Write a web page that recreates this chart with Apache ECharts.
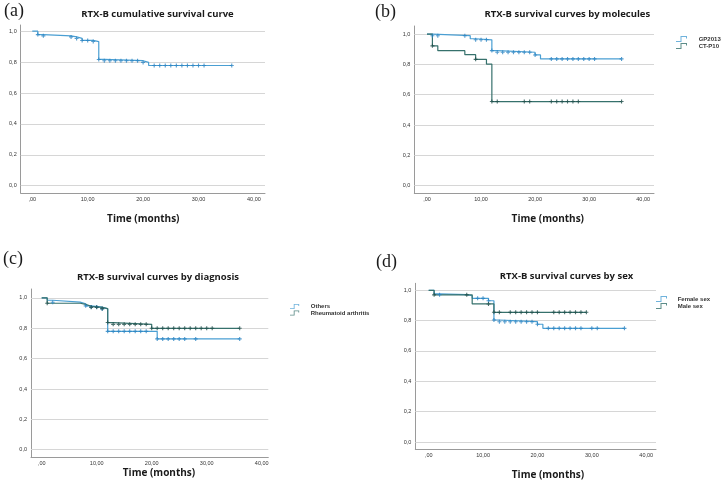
<!DOCTYPE html>
<html><head><meta charset="utf-8">
<script src="https://cdn.jsdelivr.net/npm/echarts@6/dist/echarts.min.js"></script>
<style>html,body{margin:0;padding:0;background:#fff}#c{width:722px;height:488px}</style>
</head><body><div id="c"></div>
<script>
// ---------------- data ----------------
const xTicks = [0, 10, 20, 30, 40];
const yTicks = [0, 0.2, 0.4, 0.6, 0.8, 1.0];

// (a) cumulative
const aTimes = [0, 1, 2, 7, 8, 9, 11, 12, 13, 20, 21, 36];
const aSurv  = [1.0, 0.978, 0.970, 0.963, 0.953, 0.940, 0.933, 0.817, 0.809, 0.798, 0.778, 0.778];
const aCens  = [1, 2, 7, 8, 9, 10, 11, 12, 13, 14, 15, 16, 17, 18, 19, 20, 22, 23, 24, 25, 26, 27, 28, 29, 30, 31, 36];

// (b) by molecules
const bNames = ['GP2013', 'CT-P10'];
const bGpTimes = [0, 1, 8, 9, 12, 13, 20, 21, 36];
const bGpSurv  = [1.0, 0.989, 0.969, 0.962, 0.891, 0.880, 0.862, 0.836, 0.836];
const bGpCens  = [1, 2, 7, 9, 10, 11, 12, 13, 14, 15, 16, 17, 18, 19, 20, 23, 24, 25, 26, 27, 28, 29, 30, 31, 36];
const bCtTimes = [0, 1, 2, 7, 9, 11, 12, 36];
const bCtSurv  = [1.0, 0.922, 0.890, 0.864, 0.833, 0.802, 0.555, 0.555];
const bCtCens  = [1, 9, 12, 13, 18, 19, 23, 24, 25, 26, 27, 28, 36];

// (c) by diagnosis
const cNames = ['Others', 'Rheumatoid arthritis'];
const cOtTimes = [0, 1, 2, 7, 8, 9, 11, 12, 21, 36];
const cOtSurv  = [1.0, 0.985, 0.972, 0.962, 0.948, 0.940, 0.928, 0.780, 0.730, 0.730];
const cOtCens  = [2, 8, 9, 10, 11, 12, 13, 14, 15, 16, 17, 18, 19, 21, 22, 23, 24, 25, 26, 28, 36];
const cRaTimes = [0, 1, 7, 8, 9, 11, 12, 13, 20, 36];
const cRaSurv  = [1.0, 0.965, 0.958, 0.945, 0.938, 0.930, 0.838, 0.826, 0.800, 0.800];
const cRaCens  = [1, 9, 10, 11, 12, 13, 14, 15, 16, 17, 18, 19, 20, 21, 22, 23, 24, 25, 26, 27, 28, 29, 30, 31, 36];

// (d) by sex
const dNames = ['Female sex', 'Male sex'];
const dFeTimes = [0, 1, 2, 7, 8, 11, 12, 13, 20, 21, 36];
const dFeSurv  = [1.0, 0.976, 0.971, 0.964, 0.947, 0.931, 0.804, 0.793, 0.776, 0.749, 0.749];
const dFeCens  = [2, 9, 10, 11, 12, 13, 14, 15, 16, 17, 18, 19, 20, 22, 23, 24, 25, 26, 27, 28, 30, 31, 36];
const dMaTimes = [0, 1, 8, 12, 29];
const dMaSurv  = [1.0, 0.970, 0.910, 0.855, 0.855];
const dMaCens  = [1, 7, 11, 12, 13, 15, 16, 17, 18, 19, 20, 23, 24, 25, 26, 27, 28, 29];

// ---------------- styling ----------------
const LIGHT = '#4a9fd3', LIGHT_MK = '#2a83c2';
const DARK = '#36716c', DARK_MK = '#1f4d4a';
const GRIDC = '#d6d6d6', AXISC = '#9a9a9a';
const PLUS = 'path://M3.6,0H6.4V3.6H10V6.4H6.4V10H3.6V6.4H0V3.6H3.6Z';
const STEPICON = 'path://M0,10H9V0H22V5H20V2H11V12H0Z';

function stepAt(T, S, t) { let v = S[0]; for (let i = 0; i < T.length; i++) if (T[i] <= t) v = S[i]; return v; }

const layouts = [
  { left: 20.7, top: 25, width: 244.3, height: 168, xmin: -2.09, xmax: 42.0, ymin: -0.047, ymax: 1.04 },
  { left: 414.3, top: 26, width: 239.7, height: 167.3, xmin: -2.35, xmax: 42.0, ymin: -0.050, ymax: 1.053 },
  { left: 31, top: 289, width: 237.3, height: 168.3, xmin: -1.945, xmax: 41.2, ymin: -0.050, ymax: 1.059 },
  { left: 415.3, top: 283.3, width: 240.7, height: 166, xmin: -2.46, xmax: 41.8, ymin: -0.048, ymax: 1.046 }
];

const grid = [], xAxis = [], yAxis = [], series = [];
layouts.forEach((L, i) => {
  grid.push({ left: L.left, top: L.top, width: L.width, height: L.height, containLabel: false });
  xAxis.push({
    type: 'value', gridIndex: i, min: L.xmin, max: L.xmax,
    axisLine: { show: true, onZero: false, lineStyle: { color: AXISC, width: 1 } },
    axisTick: { show: false }, splitLine: { show: false },
    axisLabel: { customValues: xTicks, fontSize: 5.5, color: '#333', margin: 3, fontFamily: 'Liberation Sans',
      formatter: v => v === 0 ? ',00' : v.toFixed(2).replace('.', ',') }
  });
  yAxis.push({
    type: 'value', gridIndex: i, min: L.ymin, max: L.ymax,
    axisLine: { show: true, onZero: false, lineStyle: { color: AXISC, width: 1 } },
    axisTick: { show: false }, splitLine: { show: false },
    axisLabel: { customValues: yTicks, fontSize: 5.5, color: '#333', margin: 4, fontFamily: 'Liberation Sans',
      formatter: v => v.toFixed(1).replace('.', ',') }
  });
});

// the step line is named "<name> curve"; the censor-mark scatter carries the group name (used by the legend)
function addCurve(gi, name, T, S, C, color, mk, withGrid) {
  const s = {
    type: 'line', name: name + ' curve', xAxisIndex: gi, yAxisIndex: gi, step: 'end',
    data: T.map((t, k) => [t, S[k]]), symbol: 'none', z: 3,
    itemStyle: { color: color }, lineStyle: { color: color, width: 1.2 },
    animation: false, silent: true
  };
  if (withGrid) {
    s.markLine = { silent: true, symbol: 'none', z: 1, label: { show: false },
      lineStyle: { color: GRIDC, width: 1, type: 'solid' },
      data: yTicks.map(v => ({ yAxis: v })) };
  }
  series.push(s);
  series.push({
    type: 'scatter', name: name, xAxisIndex: gi, yAxisIndex: gi, z: 4,
    data: C.map(t => [t, stepAt(T, S, t)]), symbol: PLUS, symbolSize: 4,
    itemStyle: { color: mk }, animation: false, silent: true
  });
}

addCurve(0, 'Survival', aTimes, aSurv, aCens, LIGHT, LIGHT_MK, true);
addCurve(1, bNames[0], bGpTimes, bGpSurv, bGpCens, LIGHT, LIGHT_MK, true);
addCurve(1, bNames[1], bCtTimes, bCtSurv, bCtCens, DARK, DARK_MK, false);
addCurve(2, cNames[0], cOtTimes, cOtSurv, cOtCens, LIGHT, LIGHT_MK, true);
addCurve(2, cNames[1], cRaTimes, cRaSurv, cRaCens, DARK, DARK_MK, false);
addCurve(3, dNames[0], dFeTimes, dFeSurv, dFeCens, LIGHT, LIGHT_MK, true);
addCurve(3, dNames[1], dMaTimes, dMaSurv, dMaCens, DARK, DARK_MK, false);

function legendAt(names, left, top, pad, lh, gap) {
  return {
    data: [{ name: names[0], itemStyle: { color: LIGHT } }, { name: names[1], itemStyle: { color: DARK } }],
    left: left, top: top, orient: 'vertical', padding: 0,
    itemWidth: 11, itemHeight: lh, itemGap: gap, icon: STEPICON, selectedMode: false,
    textStyle: { fontSize: 6, fontWeight: 'bold', color: '#333', lineHeight: lh, padding: [0, 0, 0, pad], fontFamily: 'Liberation Sans' }
  };
}

const legend = [
  legendAt(bNames, 676, 36, 6.7, 6, 1),
  legendAt(cNames, 290, 303.5, 5.7, 5, 0.5),
  legendAt(dNames, 656, 296, 5.7, 6, 1)
];

const titleFont = 'bold 9.5px "Open Sans"';
const axisFont = 'bold 10px "Open Sans"';
const labFont = '18px "Liberation Serif", serif';
function txt(x, y, text, font, align) {
  return { type: 'text', x: x, y: y, silent: true,
    style: { text: text, font: font, fill: '#1a1a1a', align: align || 'center', verticalAlign: 'middle' } };
}
const graphic = [
  txt(157.5, 14, 'RTX-B cumulative survival curve', titleFont),
  txt(567.3, 14.7, 'RTX-B survival curves by molecules', titleFont),
  txt(158, 277.3, 'RTX-B survival curves by diagnosis', titleFont),
  txt(566.5, 276.3, 'RTX-B survival curves by sex', titleFont),
  txt(143.3, 219, 'Time (months)', axisFont),
  txt(547.8, 219, 'Time (months)', axisFont),
  txt(159, 472.7, 'Time (months)', axisFont),
  txt(548, 475, 'Time (months)', axisFont),
  txt(4, 11, '(a)', labFont, 'left'),
  txt(375, 12, '(b)', labFont, 'left'),
  txt(3, 259, '(c)', labFont, 'left'),
  txt(376, 262, '(d)', labFont, 'left')
];

const chart = echarts.init(document.getElementById('c'));
chart.setOption({
  backgroundColor: '#ffffff', animation: false,
  grid, xAxis, yAxis, series, legend, graphic
});
</script></body></html>
